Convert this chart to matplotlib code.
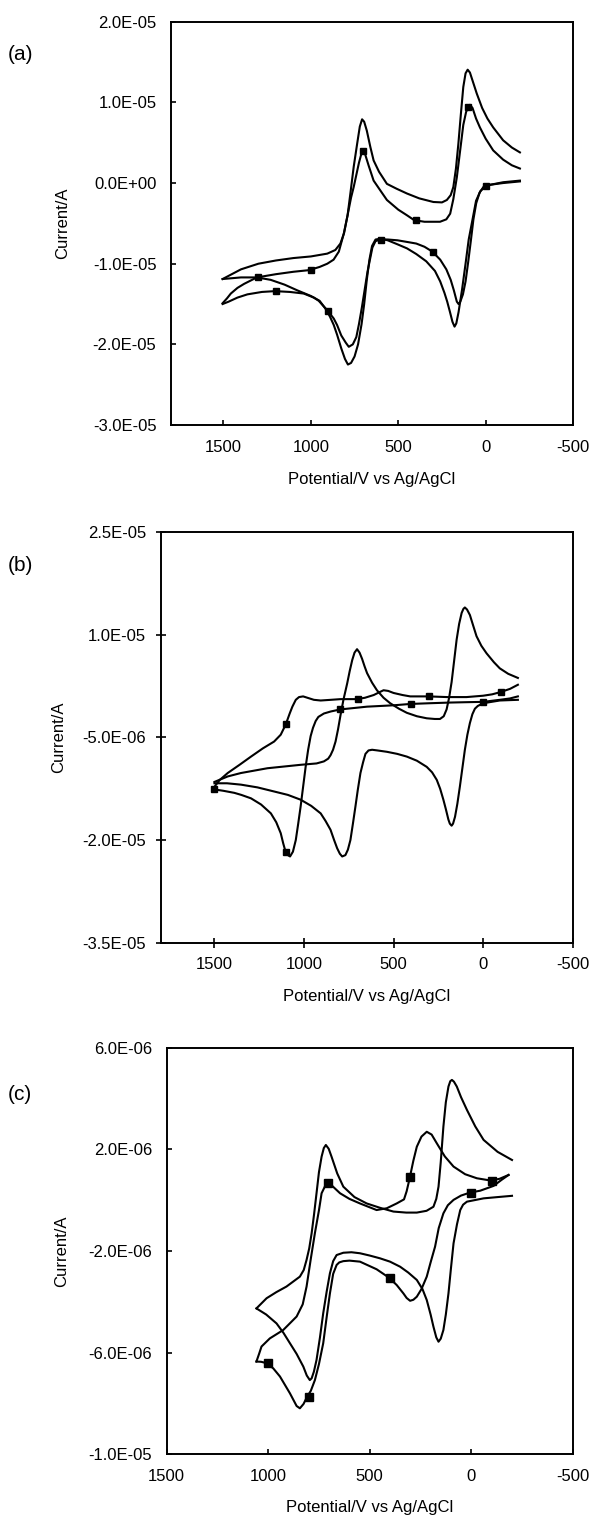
import numpy as np
import matplotlib
matplotlib.use('Agg')
import matplotlib.pyplot as plt
from matplotlib.ticker import FuncFormatter

plt.rcParams['font.family'] = ['Liberation Sans', 'DejaVu Sans']
plt.rcParams['axes.unicode_minus'] = False

# ---------------- panel (a) ----------------  (current in 1E-05 A)
a_plain_up_x = [1505, 1400, 1300, 1200, 1100, 1000, 906, 860, 831, 810, 790, 774, 755, 735, 720, 707,
                695, 680, 660, 641, 610, 565, 510, 450, 380, 299, 250, 222, 200, 185, 170, 156, 142, 128,
                115, 103, 90, 75, 51, 20, -10, -43, -100, -150, -196]
a_plain_up_y = [-1.19, -1.07, -1.0, -0.96, -0.93, -0.91, -0.875, -0.83, -0.75, -0.62, -0.40, -0.13, 0.20,
                0.49, 0.70, 0.79, 0.76, 0.65, 0.45, 0.28, 0.14, -0.01, -0.07, -0.13, -0.19, -0.235, -0.24,
                -0.21, -0.15, -0.05, 0.18, 0.49, 0.85, 1.19, 1.36, 1.405, 1.37, 1.27, 1.11, 0.93, 0.80,
                0.69, 0.53, 0.44, 0.38]
a_plain_dn_x = [-196, -100, -30, 0, 30, 55, 75, 97, 115, 135, 155, 168, 178, 190, 204, 220, 236, 260, 290,
                340, 397, 450, 504, 560, 601, 630, 650, 665, 680, 695, 710, 730, 750, 770, 788, 805, 826,
                850, 869, 890, 912, 950, 1000, 1078, 1150, 1230, 1309, 1400, 1505]
a_plain_dn_y = [0.02, 0.0, -0.02, -0.04, -0.10, -0.22, -0.45, -0.70, -1.0, -1.32, -1.60, -1.74, -1.78,
                -1.72, -1.60, -1.47, -1.36, -1.22, -1.09, -0.97, -0.88, -0.81, -0.76, -0.71, -0.69, -0.70,
                -0.78, -0.95, -1.20, -1.50, -1.75, -2.0, -2.15, -2.23, -2.25, -2.18, -2.05, -1.88, -1.76,
                -1.66, -1.57, -1.46, -1.40, -1.33, -1.26, -1.20, -1.17, -1.17, -1.19]
a_mark_up_x = [1505, 1480, 1458, 1420, 1382, 1309, 1200, 1100, 1011, 950, 906, 870, 840, 812, 790, 770,
               755, 740, 725, 709, 700, 690, 670, 641, 600, 565, 500, 450, 409, 350, 261, 225, 203, 185,
               165, 145, 128, 112, 100, 90, 75, 55, 33, 0, -43, -100, -150, -196]
a_mark_up_y = [-1.49, -1.43, -1.37, -1.30, -1.25, -1.17, -1.13, -1.10, -1.08, -1.04, -1.0, -0.95, -0.85,
               -0.63, -0.40, -0.18, -0.05, 0.10, 0.25, 0.38, 0.40, 0.36, 0.22, 0.03, -0.10, -0.21, -0.33,
               -0.40, -0.46, -0.48, -0.48, -0.45, -0.38, -0.20, 0.07, 0.42, 0.72, 0.88, 0.94, 0.97, 0.93,
               0.80, 0.69, 0.55, 0.405, 0.29, 0.22, 0.18]
a_mark_dn_x = [-196, -100, -30, 10, 35, 54, 70, 85, 100, 115, 130, 145, 155, 165, 182, 200, 225, 260, 305,
               350, 397, 450, 504, 560, 601, 630, 648, 662, 676, 692, 708, 725, 740, 760, 783, 800, 826,
               850, 869, 901, 930, 955, 983, 1041, 1120, 1205, 1280, 1363, 1420, 1470, 1505]
a_mark_dn_y = [0.03, 0.01, -0.02, -0.04, -0.12, -0.25, -0.45, -0.72, -0.98, -1.22, -1.38, -1.47, -1.50,
               -1.47, -1.33, -1.20, -1.07, -0.95, -0.85, -0.79, -0.75, -0.73, -0.71, -0.70, -0.70, -0.72,
               -0.80, -0.95, -1.10, -1.32, -1.54, -1.75, -1.91, -2.0, -2.03, -1.98, -1.89, -1.76, -1.68,
               -1.59, -1.52, -1.46, -1.42, -1.37, -1.35, -1.34, -1.35, -1.38, -1.42, -1.47, -1.50]
a_sq_x = [1300, 1000, 700, 400, 100, 0, 300, 600, 900, 1200]
a_sq_y = [-1.17, -1.08, 0.40, -0.46, 0.94, -0.04, -0.85, -0.70, -1.59, -1.34]

# ---------------- panel (b) ----------------  (current in 1E-05 A)
b_plain_up_x = [1500, 1426, 1352, 1204, 1019, 930, 889, 865, 852, 838, 824, 810, 796, 780, 759, 745, 731,
                718, 704, 690, 676, 662, 648, 620, 593, 556, 519, 470, 426, 370, 315, 270, 241, 220, 204,
                190, 176, 162, 148, 134, 120, 110, 102, 90, 74, 55, 37, 10, -19, -60, -93, -140, -194]
b_plain_up_y = [-1.15, -1.07, -1.02, -0.95, -0.90, -0.88, -0.85, -0.81, -0.76, -0.68, -0.56, -0.38, -0.17,
                0.05, 0.29, 0.47, 0.63, 0.74, 0.79, 0.74, 0.65, 0.54, 0.44, 0.30, 0.19, 0.08, 0.0, -0.08,
                -0.14, -0.19, -0.22, -0.23, -0.23, -0.19, -0.09, 0.08, 0.31, 0.62, 0.93, 1.16, 1.32, 1.38,
                1.40, 1.37, 1.29, 1.13, 0.98, 0.84, 0.73, 0.60, 0.51, 0.43, 0.37]
b_plain_dn_x = [-194, -93, 0, 30, 46, 60, 74, 88, 102, 116, 130, 144, 157, 168, 176, 186, 194, 208, 222,
                240, 259, 285, 315, 370, 426, 480, 537, 590, 620, 640, 657, 670, 685, 700, 713, 727, 741,
                755, 769, 787, 800, 815, 832, 852, 880, 907, 960, 1019, 1090, 1167, 1260, 1352, 1430, 1500]
b_plain_dn_y = [0.05, 0.04, 0.0, -0.04, -0.08, -0.16, -0.29, -0.46, -0.68, -0.95, -1.22, -1.47, -1.66,
                -1.76, -1.79, -1.76, -1.70, -1.55, -1.41, -1.25, -1.12, -1.01, -0.93, -0.84, -0.78, -0.74,
                -0.71, -0.69, -0.68, -0.69, -0.74, -0.86, -1.02, -1.27, -1.51, -1.76, -2.0, -2.14, -2.22,
                -2.24, -2.20, -2.12, -2.0, -1.85, -1.72, -1.61, -1.50, -1.41, -1.34, -1.29, -1.23, -1.19,
                -1.17, -1.17]
b_mark_up_x = [1500, 1470, 1426, 1360, 1296, 1230, 1167, 1130, 1102, 1080, 1065, 1046, 1028, 1005, 981,
               945, 907, 850, 796, 750, 704, 660, 611, 580, 556, 530, 500, 450, 407, 306, 200, 93, 0, -50,
               -93, -150, -194]
b_mark_up_y = [-1.22, -1.12, -1.02, -0.90, -0.78, -0.66, -0.56, -0.46, -0.31, -0.15, -0.05, 0.05, 0.09,
               0.10, 0.08, 0.05, 0.04, 0.05, 0.06, 0.06, 0.06, 0.08, 0.12, 0.16, 0.19, 0.18, 0.15, 0.12,
               0.10, 0.10, 0.09, 0.09, 0.11, 0.13, 0.16, 0.21, 0.27]
b_mark_dn_x = [-194, -150, -93, 0, 100, 185, 300, 404, 500, 648, 796, 850, 889, 920, 935, 950, 963, 977,
               991, 1005, 1019, 1033, 1046, 1062, 1078, 1090, 1102, 1116, 1130, 1155, 1185, 1240, 1296,
               1350, 1389, 1450, 1500]
b_mark_dn_y = [0.10, 0.07, 0.05, 0.02, 0.015, 0.01, 0.0, -0.01, -0.03, -0.05, -0.09, -0.12, -0.15, -0.20,
               -0.26, -0.36, -0.48, -0.68, -0.93, -1.22, -1.51, -1.77, -2.0, -2.17, -2.24, -2.22, -2.18,
               -2.05, -1.90, -1.74, -1.61, -1.48, -1.39, -1.34, -1.31, -1.28, -1.26]
b_sq_x = [1100, 700, 300, -100, 0, 400, 800, 1100, 1500]
b_sq_y = [-0.31, 0.06, 0.10, 0.16, 0.02, -0.01, -0.09, -2.18, -1.26]

# ---------------- panel (c) ----------------  (current in 1E-06 A)
c_plain_up_x = [1058, 1008, 960, 910, 844, 825, 811, 798, 786, 774, 762, 750, 737, 726, 716, 702, 688,
                660, 630, 575, 515, 450, 383, 320, 268, 220, 186, 172, 161, 150, 137, 125, 112, 103, 95,
                85, 71, 50, 21, -20, -61, -130, -201]
c_plain_up_y = [-4.26, -3.86, -3.62, -3.40, -3.01, -2.75, -2.35, -1.90, -1.30, -0.55, 0.27, 1.10, 1.71,
                2.05, 2.17, 2.02, 1.71, 1.05, 0.53, 0.12, -0.13, -0.30, -0.45, -0.49, -0.49, -0.42, -0.26,
                0.05, 0.53, 1.50, 2.89, 3.85, 4.47, 4.68, 4.73, 4.66, 4.47, 4.05, 3.55, 2.90, 2.37, 1.90,
                1.58]
c_plain_dn_x = [-201, -130, -61, 21, 40, 54, 70, 87, 100, 112, 125, 137, 150, 161, 172, 186, 200, 219,
                240, 268, 310, 350, 400, 449, 500, 548, 590, 630, 663, 680, 696, 712, 729, 745, 762, 775,
                786, 795, 810, 827, 860, 893, 925, 959, 1010, 1058]
c_plain_dn_y = [0.17, 0.12, 0.07, -0.06, -0.18, -0.39, -0.95, -1.70, -2.70, -3.67, -4.50, -5.11, -5.45,
                -5.57, -5.40, -4.98, -4.50, -3.93, -3.50, -3.14, -2.85, -2.62, -2.42, -2.29, -2.18, -2.09,
                -2.05, -2.07, -2.16, -2.40, -2.88, -3.60, -4.45, -5.40, -6.29, -6.75, -7.01, -7.08, -6.90,
                -6.55, -6.05, -5.63, -5.22, -4.85, -4.50, -4.26]
c_mark_up_x = [1058, 1045, 1033, 992, 926, 860, 830, 811, 790, 770, 750, 737, 720, 707, 690, 646, 600,
               548, 466, 416, 367, 331, 318, 304, 285, 268, 245, 219, 195, 169, 130, 87, 30, -28, -97,
               -140, -184]
c_mark_up_y = [-6.35, -6.05, -5.76, -5.44, -5.11, -4.58, -4.10, -3.40, -2.30, -1.30, -0.40, 0.27, 0.55,
               0.67, 0.60, 0.27, 0.05, -0.13, -0.39, -0.32, -0.13, 0.03, 0.35, 0.83, 1.55, 2.10, 2.50,
               2.69, 2.58, 2.23, 1.72, 1.32, 1.02, 0.86, 0.77, 0.84, 0.99]
c_mark_dn_x = [-184, -150, -110, -44, 5, 50, 87, 115, 137, 160, 178, 200, 219, 245, 268, 285, 301, 318,
               334, 367, 405, 466, 548, 600, 630, 650, 663, 680, 696, 712, 729, 750, 770, 790, 808, 826,
               844, 860, 893, 942, 975, 1005, 1035, 1058]
c_mark_dn_y = [0.99, 0.80, 0.56, 0.37, 0.30, 0.18, 0.01, -0.20, -0.52, -1.10, -1.83, -2.45, -3.01,
               -3.50, -3.80, -3.92, -3.96, -3.85, -3.67, -3.34, -3.05, -2.72, -2.42, -2.38, -2.40, -2.45,
               -2.55, -2.90, -3.67, -4.60, -5.63, -6.45, -7.08, -7.50, -7.73, -8.02, -8.19, -8.10, -7.60,
               -6.94, -6.62, -6.42, -6.36, -6.35]
c_sq_x = [707, 300, -100, 0, 400, 1000, 800]
c_sq_y = [0.67, 0.90, 0.77, 0.30, -3.05, -6.42, -7.73]

panels = [
    dict(tag='(a)', scale=1e-5, rect=[0.2889, 0.7200, 0.6791, 0.2657], xlim=(1800, -500),
         ylim=(-3e-5, 2e-5), yticks=[2e-5, 1e-5, 0, -1e-5, -2e-5, -3e-5], tdir='in', ms=4.5,
         lines=[(a_plain_up_x, a_plain_up_y), (a_plain_dn_x, a_plain_dn_y),
                (a_mark_up_x, a_mark_up_y), (a_mark_dn_x, a_mark_dn_y)], sq=(a_sq_x, a_sq_y),
         ylab_x=-0.2687, xlab_y=-0.136, tag_y=1 - 55 / 1518),
    dict(tag='(b)', scale=1e-5, rect=[0.2715, 0.3790, 0.6959, 0.2704], xlim=(1800, -500),
         ylim=(-3.5e-5, 2.5e-5), yticks=[2.5e-5, 1e-5, -5e-6, -2e-5, -3.5e-5], tdir='inout', ms=4.5,
         lines=[(b_plain_up_x, b_plain_up_y), (b_plain_dn_x, b_plain_dn_y),
                (b_mark_up_x, b_mark_up_y), (b_mark_dn_x, b_mark_dn_y)], sq=(b_sq_x, b_sq_y),
         ylab_x=-0.249, xlab_y=-0.132, tag_y=1 - 566 / 1518),
    dict(tag='(c)', scale=1e-6, rect=[0.2816, 0.04196, 0.6858, 0.2679], xlim=(1500, -500),
         ylim=(-1e-5, 6e-6), yticks=[6e-6, 2e-6, -2e-6, -6e-6, -1e-5], tdir='in', ms=5.5,
         lines=[(c_plain_up_x, c_plain_up_y), (c_plain_dn_x, c_plain_dn_y),
                (c_mark_up_x, c_mark_up_y), (c_mark_dn_x, c_mark_dn_y)], sq=(c_sq_x, c_sq_y),
         ylab_x=-0.258, xlab_y=-0.132, tag_y=1 - 1094 / 1518),
]

fig = plt.figure(figsize=(5.92, 15.18), dpi=100)

for p in panels:
    ax = fig.add_axes(p['rect'])
    for xs, ys in p['lines']:
        ax.plot(xs, np.array(ys) * p['scale'], color='black', lw=1.5, solid_joinstyle='round')
    ax.plot(p['sq'][0], np.array(p['sq'][1]) * p['scale'], 's', color='black', ms=p['ms'], lw=0)
    ax.set_xlim(p['xlim'])
    ax.set_ylim(p['ylim'])
    ax.set_xticks([1500, 1000, 500, 0, -500])
    ax.set_yticks(p['yticks'])
    ax.yaxis.set_major_formatter(FuncFormatter(lambda v, pos: f'{v:.1E}'))
    if p['tdir'] == 'inout':
        ax.tick_params(direction='inout', length=7, width=1.2, labelsize=12, pad=7)
    else:
        ax.tick_params(direction='in', length=3.6, width=1.2, labelsize=12, pad=10.5)
    for s in ax.spines.values():
        s.set_linewidth(1.4)
    ax.set_xlabel('Potential/V vs Ag/AgCl', fontsize=12, va='center')
    ax.xaxis.set_label_coords(0.5, p['xlab_y'])
    ax.set_ylabel('Current/A', fontsize=12, va='center')
    ax.yaxis.set_label_coords(p['ylab_x'], 0.5)
    fig.text(8 / 592, p['tag_y'], p['tag'], fontsize=15, va='center', ha='left')

fig.savefig('out.png', dpi=100)
